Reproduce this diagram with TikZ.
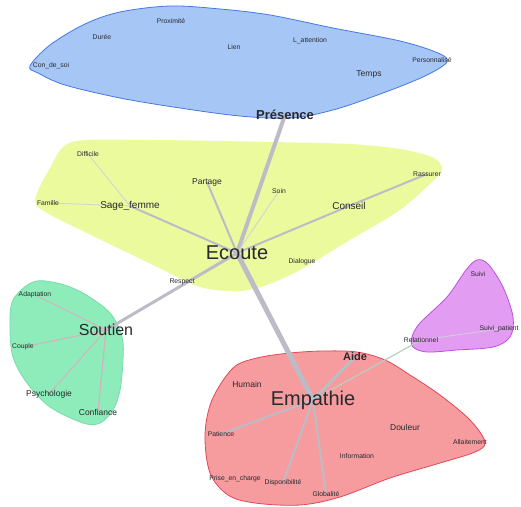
\documentclass[tikz,border=0pt]{standalone}
\usepackage{fontspec}
\setmainfont{Liberation Sans}
\usepackage{xcolor}
\usepackage{tikz}
\usetikzlibrary{backgrounds}

\definecolor{wordgray}{RGB}{40,40,45}
\definecolor{linkgray}{RGB}{188,188,198}
\definecolor{linkpink}{RGB}{214,176,186}
\definecolor{linkgreen}{RGB}{182,208,192}
\definecolor{blueblob}{RGB}{166,198,246}
\definecolor{blueline}{RGB}{70,120,225}
\definecolor{yellowblob}{RGB}{236,250,158}
\definecolor{greenblob}{RGB}{142,236,186}
\definecolor{greenline}{RGB}{120,220,170}
\definecolor{pinkblob}{RGB}{246,156,158}
\definecolor{pinkline}{RGB}{228,70,90}
\definecolor{purpleblob}{RGB}{226,156,242}
\definecolor{purpleline}{RGB}{190,80,225}

\begin{document}
\begin{tikzpicture}[
        x=1pt, y=-1pt,
        wordstyle/.style={inner sep=1pt, text=wordgray},
        smallword/.style={wordstyle, font=\fontsize{6.8}{8}\selectfont},
        midword/.style={wordstyle, font=\fontsize{8.5}{10}\selectfont},
        bigword/.style={wordstyle, font=\fontsize{10}{12}\selectfont},
        keyword/.style={wordstyle, font=\fontsize{20}{24}\selectfont},
        link/.style={draw=linkgray, line width=2pt},
        thinlink/.style={draw=linkgray!70, line width=0.8pt},
        blob/.style={line width=0.8pt}
    ]
        \useasboundingbox (0,0) rectangle (521,506);

        % Presence
        \node[smallword] (consoi) at (51,66) {Con\_de\_soi};
        \node[smallword] (duree) at (102,37) {Durée};
        \node[smallword] (proxi) at (171,21) {Proximité};
        \node[smallword] (lien) at (234,47) {Lien};
        \node[smallword] (attention) at (310,41) {L\_attention};
        \node[smallword] (perso) at (432,60) {Personnalisé};
        \node[midword] (temps) at (369,74) {Temps};
        \node[wordstyle, font=\fontsize{13}{15}\selectfont\bfseries] (presence) at (285,115) {Présence};

        % Ecoute
        \node[smallword] (diff) at (88,154) {Difficile};
        \node[smallword] (famille) at (48,203) {Famille};
        \node[bigword] (sage) at (130,206) {Sage\_femme};
        \node[midword] (partage) at (207,182) {Partage};
        \node[smallword] (soin) at (279,191) {Soin};
        \node[bigword] (conseil) at (349,206) {Conseil};
        \node[smallword] (rassurer) at (427,174) {Rassurer};
        \node[smallword] (dialogue) at (302,262) {Dialogue};
        \node[keyword] (ecoute) at (237,253) {Ecoute};
        \node[smallword] (respect) at (182,282) {Respect};

        % Soutien
        \node[smallword] (adapt) at (35,295) {Adaptation};
        \node[wordstyle, font=\fontsize{16}{19}\selectfont] (soutien) at (106,330) {Soutien};
        \node[smallword] (couple) at (23,347) {Couple};
        \node[midword] (psycho) at (49,394) {Psychologie};
        \node[midword] (confiance) at (98,412) {Confiance};

        % Empathie
        \node[keyword] (empathie) at (313,400) {Empathie};
        \node[wordstyle, font=\fontsize{11}{13}\selectfont\bfseries] (aide) at (355,357) {Aide};
        \node[midword] (humain) at (247,384) {Humain};
        \node[smallword] (patience) at (221,434) {Patience};
        \node[smallword] (prise) at (235,479) {Prise\_en\_charge};
        \node[smallword] (dispo) at (283,483) {Disponibilité};
        \node[smallword] (globalite) at (326,494) {Globalité};
        \node[smallword] (info) at (357,456) {Information};
        \node[midword] (douleur) at (405,427) {Douleur};
        \node[smallword] (allait) at (470,442) {Allaitement};

        % Relationnel
        \node[smallword] (relation) at (421,340) {Relationnel};
        \node[smallword] (suivi) at (478,274) {Suivi};
        \node[smallword] (suivipat) at (499,329) {Suivi\_patient};

        \begin{scope}[on background layer]
            \draw[blob, draw=blueline, fill=blueblob] plot[smooth cycle, tension=0.55] coordinates {
                (30,66) (50,45) (85,24) (120,12) (170,6) (220,9) (270,15) (333,28) (400,41)
                (438,53) (447,62) (425,76) (383,93) (333,110) (290,118) (240,116) (180,108)
                (120,98) (65,85) (38,73)};
            \fill[yellowblob] plot[smooth cycle, tension=0.5] coordinates {
                (72,142) (150,140) (270,142) (350,144) (400,149) (432,157) (442,167) (437,177)
                (400,210) (350,240) (300,270) (267,285) (240,291) (200,287) (153,265) (87,233)
                (47,213) (35,200) (50,168)};
            \draw[blob, draw=greenline, fill=greenblob] plot[smooth cycle, tension=0.55] coordinates {
                (33,282) (57,283) (83,293) (110,313) (122,337) (123,360) (120,390) (113,410)
                (100,423) (83,423) (50,407) (27,383) (13,357) (10,327) (13,300)};
            \draw[blob, draw=pinkline, fill=pinkblob] plot[smooth cycle, tension=0.55] coordinates {
                (233,368) (257,358) (290,353) (323,351) (357,352) (385,360) (410,375) (440,395)
                (470,420) (485,442) (475,452) (440,463) (390,478) (340,497) (300,505) (255,503)
                (228,495) (210,473) (205,435) (212,400)};
            \draw[blob, draw=purpleline, fill=purpleblob] plot[smooth cycle, tension=0.55] coordinates {
                (477,260) (488,264) (503,287) (513,317) (510,337) (493,347) (457,350) (427,352)
                (413,347) (412,337) (420,323) (447,297) (466,270)};

            \draw[link, line width=4pt] (presence.center) -- (ecoute.center);
            \draw[link, line width=5pt] (ecoute.center) -- (empathie.center);
            \draw[link, line width=3pt] (ecoute.center) -- (soutien.center);
            \draw[link] (ecoute.center) -- (sage.center);
            \draw[link] (ecoute.center) -- (partage.center);
            \draw[link] (ecoute.center) -- (conseil.center);
            \draw[link] (conseil.center) -- (rassurer.center);
            \draw[thinlink] (ecoute.center) -- (soin.center);
            \draw[thinlink] (sage.center) -- (famille.center);
            \draw[thinlink] (sage.center) -- (diff.center);

            \draw[draw=linkpink, line width=1pt] (soutien.center) -- (adapt.center);
            \draw[draw=linkpink, line width=1pt] (soutien.center) -- (couple.center);
            \draw[draw=linkpink, line width=1pt] (soutien.center) -- (psycho.center);
            \draw[draw=linkpink, line width=1.2pt] (soutien.center) -- (confiance.center);

            \draw[link, line width=3pt] (empathie.center) -- (aide.center);
            \draw[draw=linkgreen, line width=1.2pt] (empathie.center) -- (relation.center);
            \draw[thinlink] (relation.center) -- (suivipat.center);
            \draw[link] (empathie.center) -- (patience.center);
            \draw[link] (empathie.center) -- (dispo.center);
            \draw[link] (empathie.center) -- (globalite.center);
        \end{scope}
    \end{tikzpicture}
\end{document}
